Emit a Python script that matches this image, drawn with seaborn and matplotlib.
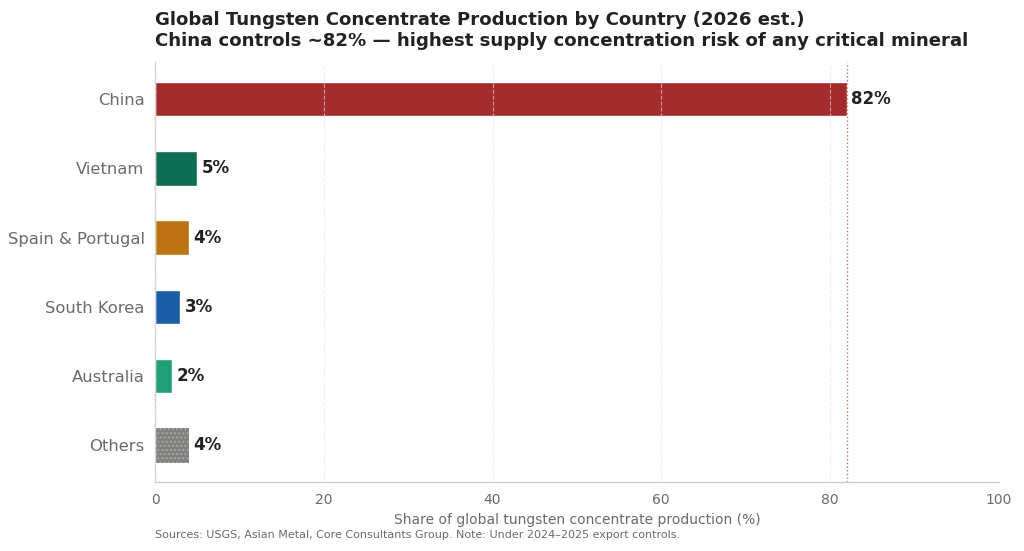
import matplotlib
matplotlib.use("Agg")
import matplotlib.pyplot as plt
import pandas as pd
import seaborn as sns

countries = ["China", "Vietnam", "Spain & Portugal", "South Korea", "Australia", "Others"]
shares = [82, 5, 4, 3, 2, 4]
colors = ["#a32b2d", "#0e6e55", "#bd7314", "#1a5ea8", "#1f9e77", "#808080"]

df = pd.DataFrame({"country": countries, "share": shares})

sns.set_theme(style="white")
plt.rcParams["font.family"] = ["DejaVu Sans"]

fig = plt.figure(figsize=(10.24, 5.51), dpi=100)
ax = fig.add_axes([0.1514, 0.125, 0.824, 0.762])

sns.barplot(data=df, x="share", y="country", hue="country", palette=colors,
            orient="h", width=0.5, legend=False, ax=ax, saturation=1)

# speckle texture on the "Others" bar
others = ax.patches[-1]
others.set_hatch("....")
others.set_edgecolor("#a8a8a0")
others.set_linewidth(0)

for y, v in enumerate(shares):
    ax.text(v + 0.5, y, f"{v}%", va="center", ha="left",
            fontsize=12, fontweight="bold", color="#222222")

ax.axvline(82, color="#c0504d", linestyle=":", linewidth=1, alpha=0.8)

ax.set_xlim(0, 100)
ax.set_ylim(5.53, -0.53)
ax.set_xticks([0, 20, 40, 60, 80, 100])
ax.grid(axis="x", linestyle="--", color="#e6e6e6", linewidth=0.8, alpha=0.6)
ax.set_axisbelow(False)

for s in ["top", "right"]:
    ax.spines[s].set_visible(False)
for s in ["left", "bottom"]:
    ax.spines[s].set_color("#cccccc")
    ax.spines[s].set_linewidth(1)

ax.tick_params(axis="y", labelsize=11.8, colors="#6b6b6b", length=4, color="#cccccc")
ax.tick_params(axis="x", labelsize=10, colors="#6b6b6b", length=4, color="#cccccc")
ax.set_ylabel("")
ax.set_xlabel("Share of global tungsten concentrate production (%)",
              fontsize=10, color="#6b6b6b", labelpad=5)

ax.set_title("Global Tungsten Concentrate Production by Country (2026 est.)\n"
             "China controls ~82% \u2014 highest supply concentration risk of any critical mineral",
             loc="left", fontsize=13.1, fontweight="bold", color="#222222", pad=12)

fig.text(0.1514, 0.024,
         "Sources: USGS, Asian Metal, Core Consultants Group. Note: Under 2024\u20132025 export controls.",
         fontsize=8, color="#6b6b6b", ha="left")

fig.savefig("out.png", dpi=100)
